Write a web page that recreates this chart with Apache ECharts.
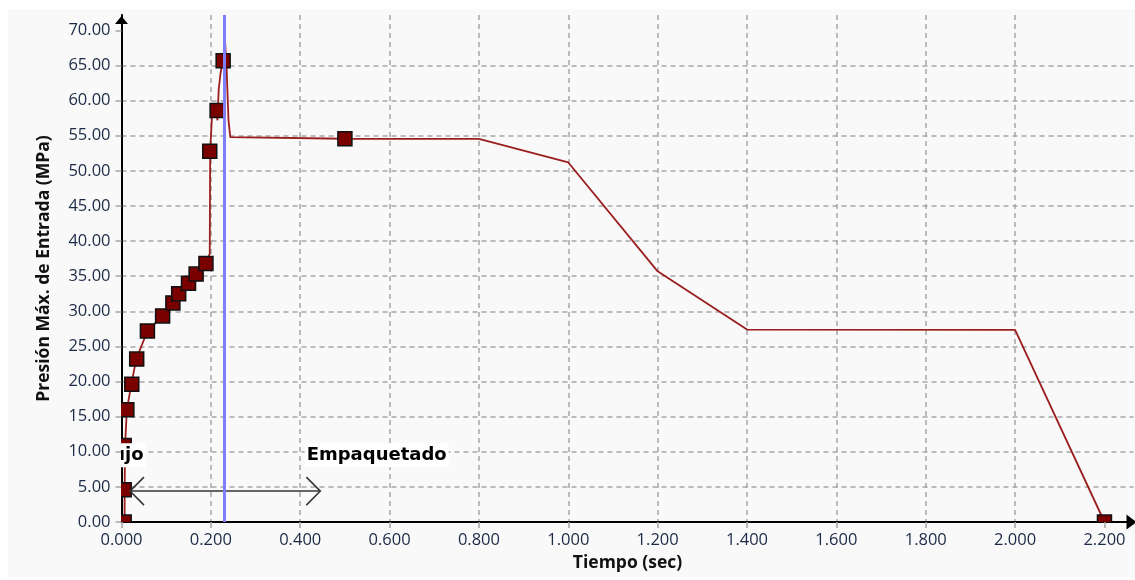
<!DOCTYPE html>
<html>
<head>
<meta charset="utf-8">
<script src="https://cdn.jsdelivr.net/npm/echarts@6/dist/echarts.min.js"></script>
<style>
  html, body { margin: 0; padding: 0; background: #ffffff; }
  #chart { width: 1135px; height: 580px; }
</style>
</head>
<body>
<div id="chart"></div>
<script>
// Inlet pressure trace (time in s, pressure in MPa)
const timeSec = [0.007, 0.007, 0.008, 0.012, 0.022, 0.033, 0.058, 0.092, 0.115, 0.128,
  0.150, 0.167, 0.189, 0.1975, 0.1985, 0.2025, 0.211, 0.2148, 0.2165, 0.2177, 0.2215,
  0.2265, 0.232, 0.2355, 0.237, 0.2395, 0.2435, 0.245, 0.500, 0.800, 0.900, 1.000,
  1.200, 1.400, 2.000, 2.200];
const pressureMPa = [0.0, 4.6, 10.9, 16.0, 19.6, 23.2, 27.2, 29.35, 31.2, 32.5,
  34.0, 35.3, 36.8, 38.2, 52.8, 57.8, 58.6, 57.2, 60.0, 61.7, 63.8,
  65.7, 68.2, 64.3, 61.5, 57.2, 54.8, 54.6, 54.58, 54.55, 52.9, 51.2,
  35.7, 27.4, 27.35, 0.0];

// Result samples shown as square markers
const markerTime = [0.006, 0.006, 0.006, 0.012, 0.023, 0.034, 0.058, 0.092, 0.115, 0.128,
  0.150, 0.167, 0.189, 0.1975, 0.214, 0.2275, 0.500, 2.200];
const markerPressure = [0.0, 4.6, 10.9, 16.0, 19.6, 23.2, 27.2, 29.35, 31.2, 32.5,
  34.0, 35.3, 36.8, 52.8, 58.6, 65.7, 54.58, 0.0];

// Tick values
const xTicks = [0, 0.2, 0.4, 0.6, 0.8, 1.0, 1.2, 1.4, 1.6, 1.8, 2.0, 2.2];
const yTicks = [0, 5, 10, 15, 20, 25, 30, 35, 40, 45, 50, 55, 60, 65, 70];

// Current-time cursor and phase annotations
const cursorTime = 0.2315;
const phaseNames = ['Flujo', 'Empaquetado'];
const phaseLabelTime = [0.054, 0.41];
const phaseLabelPressure = 9.5;
const phaseArrowTime = [0.019, 0.445];
const phaseArrowPressure = 4.4;

const lineData = timeSec.map((t, i) => [t, pressureMPa[i]]);
const markerData = markerTime.map((t, i) => [t, markerPressure[i]]);

const tickFont = { fontFamily: '"Open Sans", sans-serif', fontSize: 16.5, color: '#1b2a46' };
const nameFont = { fontFamily: '"Open Sans", sans-serif', fontWeight: 'bold', fontSize: 17.5, color: '#111' };
const gridLine = { color: '#a6a6a6', width: 1.5, type: [5, 4] };

const chart = echarts.init(document.getElementById('chart'), null, { renderer: 'canvas' });

chart.setOption({
  animation: false,
  backgroundColor: '#ffffff',
  graphic: [{
    type: 'rect',
    z: -10,
    silent: true,
    shape: { x: 8, y: 9, width: 1127, height: 568 },
    style: { fill: '#f9f9f9' }
  }],
  grid: { left: 121.5, right: 1.5, top: 15, bottom: 58, containLabel: false },
  xAxis: {
    type: 'value',
    min: 0,
    max: 2.265,
    interval: 0.2,
    name: 'Tiempo (sec)',
    nameLocation: 'middle',
    nameGap: 32,
    nameTextStyle: nameFont,
    axisLine: {
      show: true, onZero: false,
      lineStyle: { color: '#000', width: 2 },
      symbol: ['none', 'triangle'],
      symbolSize: [15, 10],
      symbolOffset: [0, -2]
    },
    axisTick: { show: true, length: 6, customValues: xTicks, lineStyle: { color: '#a6a6a6', width: 1.5 } },
    axisLabel: Object.assign({
      margin: 10,
      customValues: xTicks,
      formatter: v => v.toFixed(3)
    }, tickFont),
    splitLine: { show: true, showMaxLine: false, lineStyle: gridLine }
  },
  yAxis: {
    type: 'value',
    min: 0,
    max: 72.2,
    interval: 5,
    name: 'Presión Máx. de Entrada (MPa)',
    nameLocation: 'middle',
    nameGap: 68,
    nameTextStyle: nameFont,
    axisLine: {
      show: true, onZero: false,
      lineStyle: { color: '#000', width: 2 },
      symbol: ['none', 'triangle'],
      symbolSize: [13, 8],
      symbolOffset: [0, -5]
    },
    axisTick: { show: true, length: 6, customValues: yTicks, lineStyle: { color: '#a6a6a6', width: 1.5 } },
    axisLabel: Object.assign({
      margin: 11,
      customValues: yTicks,
      formatter: v => v.toFixed(2)
    }, tickFont),
    splitLine: { show: true, showMaxLine: false, lineStyle: gridLine }
  },
  series: [
    {
      // time cursor
      type: 'line',
      z: 1,
      data: [],
      silent: true,
      markLine: {
        silent: true,
        symbol: ['none', 'none'],
        label: { show: false },
        lineStyle: { color: '#7f7ff7', width: 3, type: 'solid' },
        data: [{ xAxis: cursorTime }]
      }
    },
    {
      type: 'line',
      z: 2,
      data: lineData,
      showSymbol: false,
      clip: true,
      lineStyle: { color: '#9a1e1e', width: 1.8 }
    },
    {
      // square result markers, clipped to the plot area
      type: 'custom',
      z: 3,
      clip: true,
      data: markerData,
      encode: { x: 0, y: 1 },
      renderItem: function (params, api) {
        const p = api.coord([api.value(0), api.value(1)]);
        return {
          type: 'rect',
          shape: { x: p[0] - 7, y: p[1] - 7, width: 14, height: 14 },
          style: { fill: '#7a0000', stroke: '#111', lineWidth: 1.5 }
        };
      }
    },
    {
      // phase annotations: labels and double-headed span arrow
      type: 'custom',
      z: 4,
      clip: true,
      silent: true,
      data: [[0, 0]],
      encode: { x: 0, y: 1 },
      renderItem: function (params, api) {
        const a = api.coord([phaseArrowTime[0], phaseArrowPressure]);
        const b = api.coord([phaseArrowTime[1], phaseArrowPressure]);
        const l1 = api.coord([phaseLabelTime[0], phaseLabelPressure]);
        const l2 = api.coord([phaseLabelTime[1], phaseLabelPressure]);
        const h = 14;
        const stroke = { stroke: '#333', lineWidth: 1.5, fill: null };
        const labelStyle = {
          font: 'bold 18px "DejaVu Sans", sans-serif',
          fill: '#000',
          verticalAlign: 'middle',
          backgroundColor: '#ffffff',
          padding: [3, 2, 3, 2]
        };
        return {
          type: 'group',
          children: [
            { type: 'line', shape: { x1: a[0], y1: a[1], x2: b[0], y2: b[1] }, style: stroke },
            { type: 'polyline', shape: { points: [[a[0] + h, a[1] - h], [a[0], a[1]], [a[0] + h, a[1] + h]] }, style: stroke },
            { type: 'polyline', shape: { points: [[b[0] - h, b[1] - h], [b[0], b[1]], [b[0] - h, b[1] + h]] }, style: stroke },
            { type: 'text', x: l1[0], y: l1[1], style: Object.assign({ text: phaseNames[0], align: 'right' }, labelStyle) },
            { type: 'text', x: l2[0], y: l2[1], style: Object.assign({ text: phaseNames[1], align: 'left' }, labelStyle) }
          ]
        };
      }
    }
  ]
});
</script>
</body>
</html>
